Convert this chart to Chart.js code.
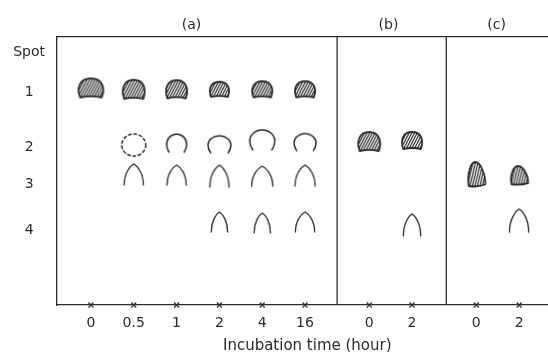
<!DOCTYPE html>
<html>
<head>
<meta charset="utf-8">
<script src="https://cdn.jsdelivr.net/npm/chart.js@4/dist/chart.umd.min.js"></script>
<style>
  html, body { margin: 0; padding: 0; background: #fff; }
  #wrap { width: 548px; height: 352px; }
</style>
</head>
<body>
<div id="wrap"><canvas id="chromatogram"></canvas></div>
<script>
// lanes along the baseline, grouped in three panels
const timeLabels = ['0', '0.5', '1', '2', '4', '16', '0', '2', '0', '2'];
const laneSlots = [1, 3, 5, 7, 9, 11, 14, 16, 19, 21];
const panelLabels = ['(a)', '(b)', '(c)'];
const panelCenters = [5.7, 14.9, 19.95];
const panelDividers = [12.5, 17.6];

// row labels on the left
const spotLabels = ['Spot', '1', '2', '3', '4'];
const spotLabelLevels = [94.2, 79.2, 59, 45.2, 27.7];

// migration of each spot (% of plate height), null = no spot in that lane
const spot1 = [81, 80.5, 80.5, 80.5, 80.5, 80.5, null, null, null, null];
const spot2 = [null, 59.7, 60.4, 60, 61.6, 60.8, 61, 61.4, null, null];
const spot3 = [null, 48.7, 48.5, 48.1, 48.1, 48.3, null, null, 48.7, 48.3];
const spot4 = [null, null, null, 31, 30.6, 31, null, 29.9, null, 31.5];

const ink = '#2b2b2b';

// how each spot was drawn: [kind, width, height]
const spot1Marks = [['dome', 27, 19], ['dome', 24, 19], ['dome', 23, 18], ['dome', 21, 15], ['dome', 22, 16], ['dome', 22, 16]];
const spot2Marks = [null, ['dashed', 24, 22], ['ring', 20, 18], ['ring', 23, 17], ['ring', 25, 20], ['ring', 22, 17], ['dome', 24, 19], ['dome', 22, 17]];
const spot3Marks = [null, ['arch', 20, 21], ['arch', 20, 20], ['arch', 20, 22], ['arch', 22, 20], ['arch', 21, 21], null, null, ['drop', 19, 25], ['drop', 19, 19]];
const spot4Marks = [null, null, null, ['arch', 17, 20], ['arch', 17, 20], ['arch', 20, 20], null, ['arch', 18, 22], null, ['arch', 20, 23]];

const shapeCache = {};

function outline(g, kind, w, h) {
    g.beginPath();
    if (kind == 'dome') {
        g.moveTo(0.1 * w, h);
        g.bezierCurveTo(-0.05 * w, 0.45 * h, 0.1 * w, 0, 0.5 * w, 0);
        g.bezierCurveTo(0.9 * w, 0, 1.05 * w, 0.45 * h, 0.9 * w, h);
        g.quadraticCurveTo(0.5 * w, 0.88 * h, 0.1 * w, h);
        g.closePath();
    } else if (kind == 'drop') {
        g.moveTo(0.1 * w, 0.96 * h);
        g.bezierCurveTo(0, 0.5 * h, 0.2 * w, 0, 0.45 * w, 0);
        g.bezierCurveTo(0.7 * w, 0, 1.0 * w, 0.5 * h, 0.97 * w, 0.9 * h);
        g.quadraticCurveTo(0.55 * w, 1.02 * h, 0.1 * w, 0.96 * h);
        g.closePath();
    }
}

function hatch(g, w, h, slant, gap) {
    g.save();
    g.clip();
    g.lineWidth = 1.2;
    g.beginPath();
    for (let t = -h; t < w + h; t += gap) {
        g.moveTo(t, h + 1);
        g.lineTo(t + (h + 1) * slant, -1);
    }
    g.stroke();
    g.restore();
}

function shape(kind, w, h) {
    const key = kind + w + 'x' + h;
    if (shapeCache[key]) return shapeCache[key];
    const pad = 2;
    const c = document.createElement('canvas');
    c.width = w + pad * 2;
    c.height = h + pad * 2;
    const g = c.getContext('2d');
    g.translate(pad, pad);
    g.strokeStyle = ink;
    g.lineCap = 'round';
    g.lineJoin = 'round';

    if (kind == 'dome' || kind == 'drop') {
        outline(g, kind, w, h);
        if (kind == 'dome') hatch(g, w, h, 0.55, 2.7);
        else hatch(g, w, h, 0.25, 2.5);
        outline(g, kind, w, h);
        g.lineWidth = 1.8;
        g.stroke();
    } else if (kind == 'ring') {
        // horseshoe: round top, legs bending slightly inwards
        const r = w / 2;
        const top = Math.min(h * 0.55, r);
        g.beginPath();
        g.moveTo(0.12 * w, h);
        g.quadraticCurveTo(0, 0.8 * h, 0, top);
        g.ellipse(r, top, r, top, 0, Math.PI, 2 * Math.PI);
        g.quadraticCurveTo(w, 0.8 * h, 0.88 * w, h);
        g.lineWidth = 1.5;
        g.stroke();
    } else if (kind == 'dashed') {
        g.beginPath();
        g.setLineDash([2.6, 2.8]);
        g.ellipse(w / 2, h / 2, w / 2, h / 2, 0, 0, 2 * Math.PI);
        g.lineWidth = 1.5;
        g.stroke();
    } else if (kind == 'arch') {
        g.beginPath();
        g.moveTo(0.02 * w, h);
        g.bezierCurveTo(0.02 * w, 0.45 * h, 0.3 * w, 0.1 * h, 0.5 * w, 0);
        g.bezierCurveTo(0.7 * w, 0.1 * h, 0.98 * w, 0.45 * h, 0.98 * w, h);
        g.lineWidth = 1.3;
        g.stroke();
    }
    shapeCache[key] = c;
    return c;
}

function spotDataset(values, marks) {
    return {
        type: 'scatter',
        data: values
            .map((v, i) => v == null ? null : { x: laneSlots[i], y: v, lane: i })
            .filter(p => p),
        pointStyle: ctx => {
            if (!ctx.raw) return 'circle';
            const m = marks[ctx.raw.lane];
            return shape(m[0], m[1], m[2]);
        },
        clip: false
    };
}

let datasets = [
    spotDataset(spot1, spot1Marks),
    spotDataset(spot2, spot2Marks),
    spotDataset(spot3, spot3Marks),
    spotDataset(spot4, spot4Marks),
    {
        // origin marks on the baseline
        type: 'scatter',
        data: laneSlots.map(s => ({ x: s, y: 0 })),
        pointStyle: 'crossRot',
        pointRadius: 3.5,
        borderColor: ink,
        borderWidth: 1.2,
        clip: false
    }
];

panelDividers.forEach(x => {
    datasets.push({
        type: 'scatter',
        data: [{ x: x, y: 0 }, { x: x, y: 100 }],
        showLine: true,
        borderColor: ink,
        borderWidth: 1.3,
        pointRadius: 0
    });
});

const font = { family: 'DejaVu Sans', size: 14 };
const xMin = -0.585;
const xMax = 22.35;

const config = {
    type: 'scatter',
    data: { datasets: datasets },
    options: {
        responsive: true,
        maintainAspectRatio: false,
        animation: false,
        events: [],
        layout: { padding: 0, autoPadding: false },
        plugins: {
            legend: { display: false },
            tooltip: { enabled: false }
        },
        scales: {
            x: {
                type: 'linear',
                position: 'bottom',
                min: xMin,
                max: xMax,
                grid: { display: false, drawTicks: false },
                border: { color: ink, width: 1.3 },
                afterBuildTicks: s => { s.ticks = laneSlots.map(v => ({ value: v })); },
                afterFit: s => { s.height = 47; },
                ticks: {
                    autoSkip: false,
                    maxRotation: 0,
                    color: ink,
                    font: font,
                    padding: 10,
                    callback: (v, i) => timeLabels[i]
                },
                title: {
                    display: true,
                    text: '\u00a0\u00a0Incubation time (hour)',
                    color: ink,
                    font: { family: 'DejaVu Sans', size: 15 },
                    padding: { top: 0, bottom: -3 }
                }
            },
            x2: {
                type: 'linear',
                position: 'top',
                min: xMin,
                max: xMax,
                grid: { display: false, drawTicks: false },
                border: { color: ink, width: 1.3 },
                afterBuildTicks: s => { s.ticks = panelCenters.map(v => ({ value: v })); },
                afterFit: s => { s.height = 37; },
                ticks: {
                    autoSkip: false,
                    maxRotation: 0,
                    color: ink,
                    font: font,
                    padding: 3,
                    callback: (v, i) => panelLabels[i]
                }
            },
            y: {
                type: 'linear',
                min: 0,
                max: 100,
                grid: { display: false, drawTicks: false },
                border: { color: ink, width: 1.3 },
                afterBuildTicks: s => { s.ticks = spotLabelLevels.map(v => ({ value: v })); },
                afterFit: s => { s.width = 57; },
                ticks: {
                    autoSkip: false,
                    crossAlign: 'center',
                    color: ink,
                    font: font,
                    padding: 12,
                    callback: (v, i) => spotLabels[i]
                }
            }
        }
    }
};

const myChart = new Chart(document.getElementById('chromatogram'), config);
</script>
</body>
</html>
